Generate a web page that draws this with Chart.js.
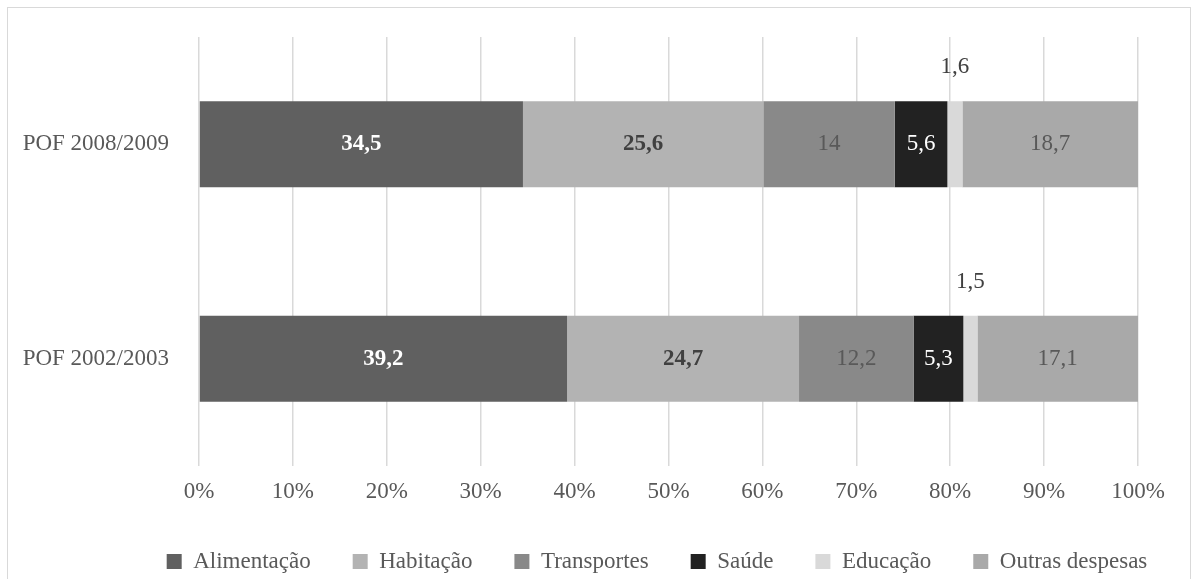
<!DOCTYPE html>
<html lang="pt">
<head>
    <meta charset="UTF-8">
    <title>POF despesas</title>
    <script src="https://cdn.jsdelivr.net/npm/chart.js@4/dist/chart.umd.min.js"></script>
    <style>
        body { margin: 0; background: #fff; }
        #wrap { width: 1193px; height: 579px; }
    </style>
</head>
<body>
<div id="wrap"><canvas id="bar-chart" width="1193" height="579"></canvas></div>

<script>
    // data
    const categories = ['POF 2008/2009', 'POF 2002/2003'];
    const seriesNames = ['Alimentação', 'Habitação', 'Transportes', 'Saúde', 'Educação', 'Outras despesas'];
    const alimentacao = [34.5, 39.2];
    const habitacao = [25.6, 24.7];
    const transportes = [14, 12.2];
    const saude = [5.6, 5.3];
    const educacao = [1.6, 1.5];
    const outras = [18.7, 17.1];
    const xTicks = [0, 10, 20, 30, 40, 50, 60, 70, 80, 90, 100];

    const fontFam = '"Liberation Serif", "Times New Roman", serif';
    const textGrey = '#595959';

    // colour + label style per series
    const barColors = ['#606060', '#b3b3b3', '#898989', '#222222', '#d9d9d9', '#a9a9a9'];
    const labelStyle = [
        {color: '#ffffff', weight: 'bold'},
        {color: '#404040', weight: 'bold'},
        {color: '#595959', weight: 'normal'},
        {color: '#ffffff', weight: 'normal'},
        {color: '#404040', weight: 'normal', above: true},
        {color: '#595959', weight: 'normal'}
    ];

    const allValues = [alimentacao, habitacao, transportes, saude, educacao, outras];

    function fmt(v) {
        return String(v).replace('.', ',');
    }

    // outer frame like the office chart
    const framePlugin = {
        id: 'frame',
        beforeDraw(chart) {
            const ctx = chart.ctx;
            ctx.save();
            ctx.strokeStyle = '#d9d9d9';
            ctx.lineWidth = 1;
            ctx.strokeRect(7.5, 7.5, 1183, 600);
            ctx.restore();
        }
    };

    // the original legend sits right of centre and a bit lower
    const legendShift = {
        id: 'legendShift',
        afterLayout(chart) {
            const lg = chart.legend;
            if (lg) {
                lg.left += 88;
                lg.right += 88;
                lg.top += 4;
                lg.bottom += 4;
            }
        }
    };

    // value labels inside the bars (or above for tiny ones)
    const valueLabels = {
        id: 'valueLabels',
        afterDatasetsDraw(chart) {
            const ctx = chart.ctx;
            ctx.save();
            ctx.textAlign = 'center';
            ctx.textBaseline = 'middle';
            chart.data.datasets.forEach((ds, i) => {
                const st = labelStyle[i];
                chart.getDatasetMeta(i).data.forEach((bar, j) => {
                    const txt = fmt(ds.data[j]);
                    ctx.font = st.weight + ' 23px ' + fontFam;
                    ctx.fillStyle = st.color;
                    const cx = (bar.x + bar.base) / 2;
                    let cy = bar.y;
                    if (st.above) {
                        cy = bar.y - bar.height / 2 - 34;
                    }
                    ctx.fillText(txt, cx, cy);
                });
            });
            ctx.restore();
        }
    };

    new Chart(document.getElementById('bar-chart'), {
        type: 'bar',
        data: {
            labels: categories,
            datasets: seriesNames.map((name, i) => ({
                label: name,
                data: allValues[i],
                backgroundColor: barColors[i],
                borderWidth: 0,
                categoryPercentage: 1,
                barPercentage: 0.4
            }))
        },
        options: {
            indexAxis: 'y',
            responsive: false,
            animation: false,
            layout: {
                padding: {top: 37, right: 55, left: 0, bottom: 0}
            },
            plugins: {
                tooltip: {enabled: false},
                legend: {
                    position: 'bottom',
                    labels: {
                        boxWidth: 15,
                        boxHeight: 15,
                        padding: 42,
                        color: textGrey,
                        font: {family: fontFam, size: 23}
                    }
                }
            },
            scales: {
                x: {
                    stacked: true,
                    min: 0,
                    max: 100,
                    afterBuildTicks(scale) {
                        scale.ticks = xTicks.map(v => ({value: v}));
                    },
                    afterFit(scale) {
                        scale.height = 38;
                    },
                    grid: {color: '#d9d9d9', lineWidth: 1.5, drawTicks: false},
                    border: {display: false},
                    ticks: {
                        padding: 12,
                        color: textGrey,
                        font: {family: fontFam, size: 23},
                        callback: v => v + '%'
                    }
                },
                y: {
                    stacked: true,
                    afterFit(scale) {
                        scale.width = 199;
                    },
                    grid: {display: false},
                    border: {display: false},
                    ticks: {
                        padding: 22,
                        color: textGrey,
                        font: {family: fontFam, size: 23}
                    }
                }
            }
        },
        plugins: [framePlugin, legendShift, valueLabels]
    });
</script>
</body>
</html>
